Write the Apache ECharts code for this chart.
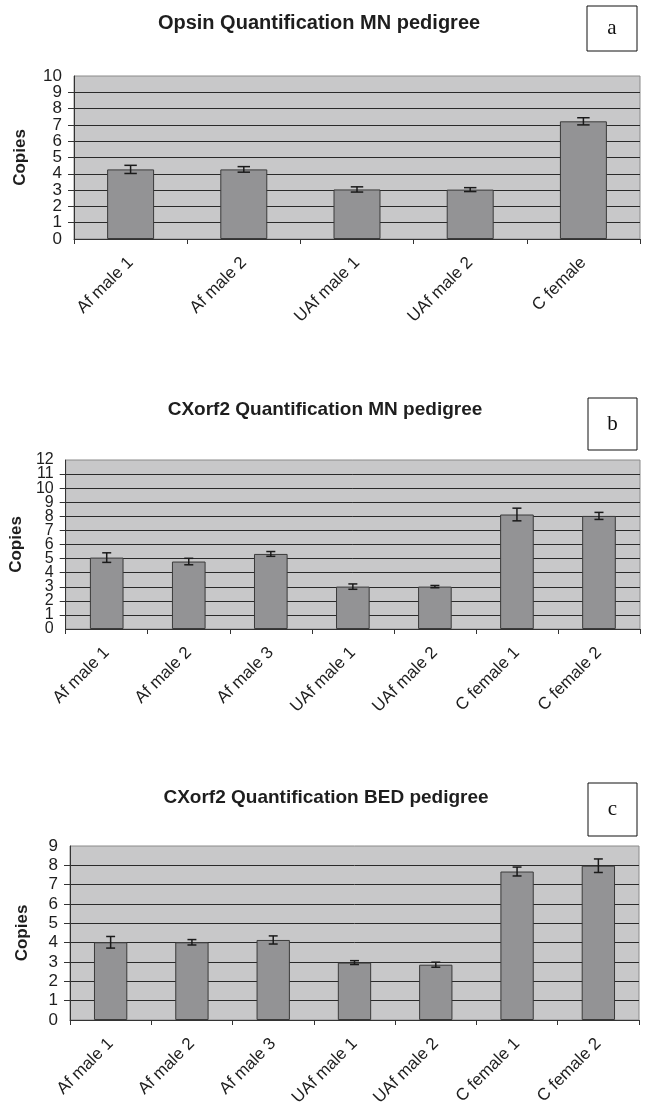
<!DOCTYPE html>
<html>
<head>
<meta charset="utf-8">
<script src="https://cdn.jsdelivr.net/npm/echarts@6/dist/echarts.min.js"></script>
<style>
html,body{margin:0;padding:0;background:#fff;}
#main{width:655px;height:1111px;}
</style>
</head>
<body>
<div id="main"></div>
<script>
// ---- data ----
var catsA = ['Af male 1', 'Af male 2', 'UAf male 1', 'UAf male 2', 'C female'];
var valsA = [4.27, 4.27, 3.04, 3.03, 7.22];
var errsA = [0.25, 0.17, 0.16, 0.12, 0.22];

var catsB = ['Af male 1', 'Af male 2', 'Af male 3', 'UAf male 1', 'UAf male 2', 'C female 1', 'C female 2'];
var valsB = [5.07, 4.79, 5.33, 3.01, 3.01, 8.13, 8.03];
var errsB = [0.34, 0.23, 0.17, 0.19, 0.08, 0.45, 0.25];

var catsC = ['Af male 1', 'Af male 2', 'Af male 3', 'UAf male 1', 'UAf male 2', 'C female 1', 'C female 2'];
var valsC = [4.02, 4.02, 4.14, 2.97, 2.86, 7.68, 7.98];
var errsC = [0.30, 0.14, 0.21, 0.10, 0.13, 0.23, 0.35];

var titles = ['Opsin Quantification MN pedigree', 'CXorf2 Quantification MN pedigree', 'CXorf2 Quantification BED pedigree'];
var panelLetters = ['a', 'b', 'c'];
var yMax = [10, 12, 9];

// ---- styling ----
var FONT = '"Liberation Sans", Arial, Helvetica, sans-serif';
var TXT = '#1e1e1e';
var grids = [
  {left: 74, top: 76, width: 566, height: 163},
  {left: 65, top: 460, width: 575, height: 169},
  {left: 70, top: 846, width: 569, height: 174}
];
var nameGaps = [45, 34, 39];
var yLabelSize = [17, 16, 17];
var barWidths = ['41.5%', '41%', '41%'];

var chart = echarts.init(document.getElementById('main'), null, {renderer: 'canvas'});

function errRender(params, api) {
  var i = api.value(0), v = api.value(1), e = api.value(2);
  var top = api.coord([i, v + e]);
  var bot = api.coord([i, v - e]);
  var half = api.size([1, 0])[0] * 0.055;
  var st = {stroke: '#1a1a1a', lineWidth: 1.5};
  return {
    type: 'group',
    children: [
      {type: 'line', shape: {x1: top[0], y1: top[1], x2: bot[0], y2: bot[1]}, style: st},
      {type: 'line', shape: {x1: top[0] - half, y1: top[1], x2: top[0] + half, y2: top[1]}, style: st},
      {type: 'line', shape: {x1: bot[0] - half, y1: bot[1], x2: bot[0] + half, y2: bot[1]}, style: st}
    ]
  };
}

var cats = [catsA, catsB, catsC];
var vals = [valsA, valsB, valsC];
var errs = [errsA, errsB, errsC];

var gridOpts = [], xAxes = [], yAxes = [], series = [];
for (var k = 0; k < 3; k++) {
  gridOpts.push({
    left: grids[k].left, top: grids[k].top, width: grids[k].width, height: grids[k].height,
    show: true, backgroundColor: '#c8c8c9', borderColor: '#8a8a8a', borderWidth: 1
  });
  xAxes.push({
    type: 'category', gridIndex: k, data: cats[k],
    axisLine: {show: true, lineStyle: {color: '#333', width: 1}},
    axisTick: {show: true, length: 5, lineStyle: {color: '#333'}},
    axisLabel: {interval: 0, rotate: 45, fontSize: 17, color: TXT, fontFamily: FONT, margin: 21,
                hideOverlap: false}
  });
  // main value axis: ticks, grid lines, inner labels
  yAxes.push({
    type: 'value', gridIndex: k, position: 'left', min: 0, max: yMax[k], interval: 1,
    name: 'Copies', nameLocation: 'middle', nameGap: nameGaps[k],
    nameTextStyle: {fontSize: 17, fontWeight: 'bold', color: TXT, fontFamily: FONT},
    axisLine: {show: true, lineStyle: {color: '#333', width: 1}},
    axisTick: {show: true, length: 6, lineStyle: {color: '#333'}},
    axisLabel: {fontSize: yLabelSize[k], color: TXT, fontFamily: FONT, margin: 12,
                showMinLabel: false, showMaxLabel: false, hideOverlap: false},
    splitLine: {show: true, showMaxLine: false, lineStyle: {color: '#2a2a2a', width: 1}}
  });
  // companion axis on same side: only end labels (min and max)
  yAxes.push({
    type: 'value', gridIndex: k, position: 'left', offset: 0, min: 0, max: yMax[k], interval: yMax[k],
    axisLine: {show: false}, axisTick: {show: false}, splitLine: {show: false},
    axisLabel: {fontSize: yLabelSize[k], color: TXT, fontFamily: FONT, margin: 12,
                showMinLabel: true, showMaxLabel: true, hideOverlap: false}
  });
  series.push({
    type: 'bar', xAxisIndex: k, yAxisIndex: 2 * k, data: vals[k], barWidth: barWidths[k],
    itemStyle: {color: '#939395', borderColor: '#3a3a3a', borderWidth: 1},
    silent: true, z: 2
  });
  var ed = [];
  for (var i = 0; i < vals[k].length; i++) ed.push([i, vals[k][i], errs[k][i]]);
  series.push({
    type: 'custom', xAxisIndex: k, yAxisIndex: 2 * k, data: ed,
    renderItem: errRender, z: 5, silent: true,
    encode: {x: 0, y: 1}
  });
}

var titleOpts = [
  {text: titles[0], left: 319, top: 13, textAlign: 'center', padding: 0,
   textStyle: {fontSize: 20, fontWeight: 'bold', color: TXT, fontFamily: FONT}},
  {text: titles[1], left: 325, top: 400, textAlign: 'center', padding: 0,
   textStyle: {fontSize: 19, fontWeight: 'bold', color: TXT, fontFamily: FONT}},
  {text: titles[2], left: 326, top: 788, textAlign: 'center', padding: 0,
   textStyle: {fontSize: 19, fontWeight: 'bold', color: TXT, fontFamily: FONT}}
];

var boxes = [
  {x: 587, y: 6, w: 50, h: 45},
  {x: 588, y: 398, w: 49, h: 52},
  {x: 588, y: 783, w: 49, h: 53}
];
var graphics = [];
for (var b = 0; b < 3; b++) {
  graphics.push({
    type: 'rect', shape: {x: boxes[b].x, y: boxes[b].y, width: boxes[b].w, height: boxes[b].h},
    style: {fill: '#fff', stroke: '#111', lineWidth: 1}
  });
  graphics.push({
    type: 'text', x: boxes[b].x + boxes[b].w / 2, y: boxes[b].y + boxes[b].h / 2,
    style: {text: panelLetters[b], fontSize: 21, fontFamily: '"Liberation Serif", "Times New Roman", serif',
            fill: '#111', align: 'center', verticalAlign: 'middle'}
  });
}

chart.setOption({
  backgroundColor: '#ffffff',
  animation: false,
  title: titleOpts,
  grid: gridOpts,
  xAxis: xAxes,
  yAxis: yAxes,
  series: series,
  graphic: graphics
});
</script>
</body>
</html>
